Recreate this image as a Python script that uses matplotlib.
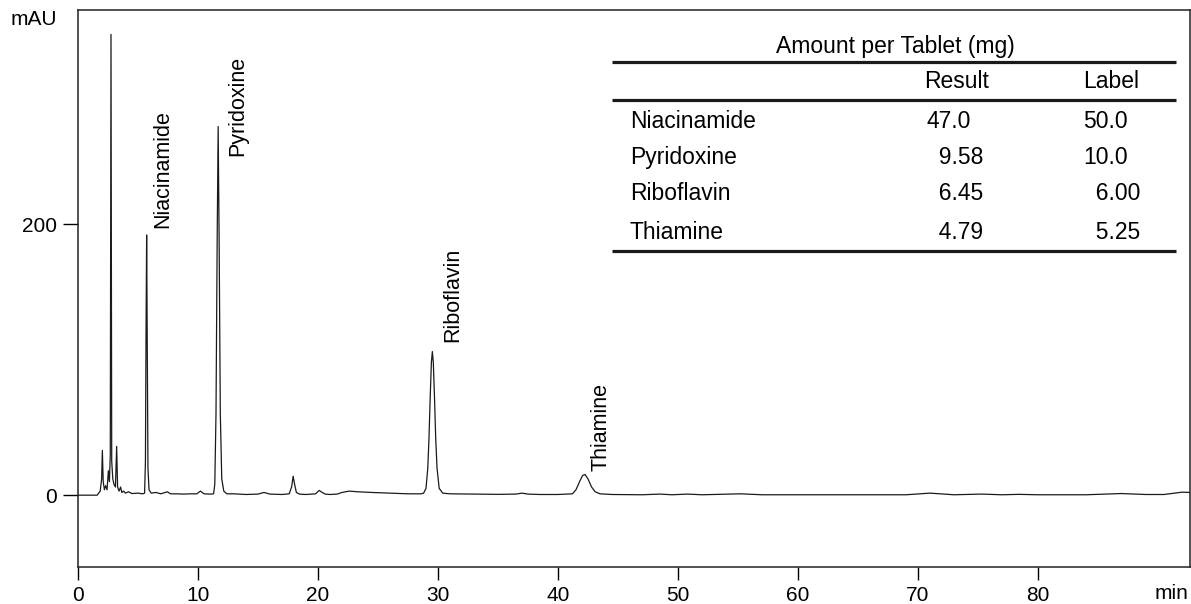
import matplotlib.pyplot as plt

plt.rcParams['font.family'] = ['Liberation Sans', 'DejaVu Sans']

# chromatogram trace (time in min, signal in mAU)
trace_min = [0, 1.6, 1.85, 1.97, 2.03, 2.1, 2.2, 2.3, 2.42, 2.53, 2.62, 2.69, 2.75, 2.81,
             2.9, 3.0, 3.12, 3.22, 3.3, 3.42, 3.55, 3.65, 3.8, 3.95, 4.2, 4.5, 5.0, 5.4,
             5.55, 5.62, 5.67, 5.72, 5.77, 5.83, 5.92, 6.1,
             6.5, 6.9, 7.2, 7.45, 7.7, 8.2, 8.8, 9.4, 9.9, 10.2, 10.5, 11.0, 11.3,
             11.4, 11.5, 11.6, 11.68, 11.76, 11.86, 11.98, 12.15, 12.4,
             13.0, 14.0, 15.0, 15.5, 16.0, 17.0, 17.6, 17.8, 17.93, 18.05, 18.2, 18.45,
             19.0, 19.8, 20.1, 20.35, 20.6, 21.0, 21.6, 22.0, 22.6, 23.3, 24.5, 26.0,
             27.5, 28.6,
             28.8, 29.0, 29.15, 29.25, 29.35, 29.45, 29.53, 29.61, 29.71, 29.81, 29.92,
             30.1, 30.4,
             31.0, 33.0, 35.0, 36.5, 37.0, 37.5, 38.5, 40.0,
             41.2, 41.5, 41.8, 42.05, 42.25, 42.5, 42.8, 43.1, 43.5, 44.5,
             47.0, 48.5, 49.5, 50.8, 52.0, 55.2, 57.0, 60.0, 65.0, 69.0, 71.0, 73.0,
             75.3, 77.0, 78.4, 80.0, 84.0, 86.9, 89.0, 90.5, 92.0, 92.7]
trace_mau = [0, 0, 3, 12, 33, 10, 4, 7, 4, 18, 10, 30, 340, 25,
             12, 8, 6, 36, 6, 3, 6, 2, 3, 1.5, 2.5, 1.2, 1.5, 1,
             1.5, 25, 120, 192, 110, 20, 4, 1.5,
             2, 1, 1.8, 2.5, 1, 1, 0.8, 1, 1, 3, 1, 0.8, 1,
             8, 60, 190, 272, 190, 60, 12, 3, 1,
             1, 0.5, 0.8, 2, 0.8, 0.5, 1, 6, 14, 8, 2, 0.8,
             0.5, 1, 3.5, 2, 0.8, 0.5, 0.8, 2, 3, 2.5, 2, 1.5,
             1, 1,
             1.5, 5, 20, 42, 72, 98, 106, 98, 72, 42, 20,
             5, 1.5,
             1, 0.8, 0.6, 0.8, 1.5, 0.8, 0.5, 0.5,
             1, 4, 10, 14.5, 15.3, 12, 6, 2.5, 1, 0.5,
             0.3, 0.8, 0.3, 0.8, 0.3, 1, 0.3, 0.3, 0.3, 0.3, 1.5, 0.3,
             0.8, 0.3, 0.6, 0.3, 0.3, 1.2, 0.5, 0.5, 2.2, 2]

# peak labels
compounds = ['Niacinamide', 'Pyridoxine', 'Riboflavin', 'Thiamine']
label_pos = [(7.1, 197), (13.3, 250), (31.2, 113), (43.6, 18)]

# table values
result_vals = ['47.0', '9.58', '6.45', '4.79']
label_vals = ['50.0', '10.0', '6.00', '5.25']

fig = plt.figure(figsize=(11.91, 6.04), dpi=100)
ax = fig.add_axes([78 / 1191, 37 / 604, 1112 / 1191, 557 / 604])

ax.plot(trace_min, trace_mau, color='#1a1a1a', lw=0.9)

ax.set_xlim(0, 92.67)
ax.set_ylim(-53, 358)
ax.set_xticks(range(0, 81, 10))
ax.set_yticks([0, 200])
ax.tick_params(axis='x', length=9, width=1, pad=5, labelsize=15)
ax.tick_params(axis='y', length=11, width=1, pad=4, labelsize=15)
for s in ax.spines.values():
    s.set_linewidth(1.1)
    s.set_color('#222222')

for name, (x, y) in zip(compounds, label_pos):
    ax.text(x, y, name, rotation=90, ha='center', va='bottom', fontsize=15.5)

ax.text(0.999, -0.048, 'min', transform=ax.transAxes, ha='right', va='center', fontsize=15)
fig.text(0.028, 0.967, 'mAU', ha='center', va='center', fontsize=15)

# table
tx0, tx1 = 0.480, 0.987
for ty in [0.9066, 0.8384, 0.5673]:
    ax.plot([tx0, tx1], [ty, ty], color='#1a1a1a', lw=2.3, transform=ax.transAxes,
            solid_capstyle='butt')
ax.text(0.7347, 0.935, 'Amount per Tablet (mg)', transform=ax.transAxes,
        ha='center', va='center', fontsize=16.5)
ax.text(0.7905, 0.8725, 'Result', transform=ax.transAxes, ha='center', va='center', fontsize=16.5)
ax.text(0.929, 0.8725, 'Label', transform=ax.transAxes, ha='center', va='center', fontsize=16.5)
row_y = [0.8007, 0.7343, 0.6697, 0.6014]
for name, r, l, y in zip(compounds, result_vals, label_vals, row_y):
    ax.text(0.4964, y, name, transform=ax.transAxes, ha='left', va='center', fontsize=16.5)
    r_txt = r if float(r) >= 10 else '\u2007' + r
    l_txt = l if float(l) >= 10 else '\u2007' + l
    ax.text(0.763, y, r_txt, transform=ax.transAxes, ha='left', va='center', fontsize=16.5)
    ax.text(0.9038, y, l_txt, transform=ax.transAxes, ha='left', va='center', fontsize=16.5)

fig.savefig('out.png', dpi=100)
